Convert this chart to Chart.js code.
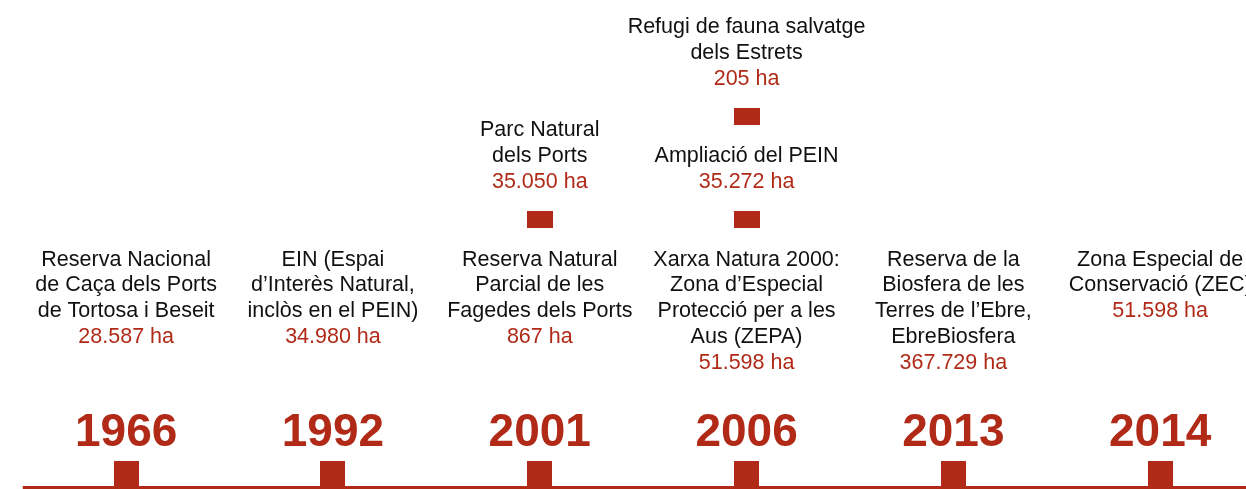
<!DOCTYPE html>
<html>
<head>
<meta charset="utf-8">
<script src="https://cdn.jsdelivr.net/npm/chart.js@4.4.1/dist/chart.umd.min.js"></script>
<style>
  html, body { margin: 0; padding: 0; background: #ffffff; }
  #wrap { width: 1246px; height: 489px; position: relative; }
</style>
</head>
<body>
<div id="wrap"><canvas id="c" width="1246" height="489"></canvas></div>
<script>
// ---------- DATA ----------
const years = ['1966', '1992', '2001', '2006', '2013', '2014'];
const baseTitles = [
  ['Reserva Nacional', 'de Caça dels Ports', 'de Tortosa i Beseit'],
  ['EIN (Espai', 'd’Interès Natural,', 'inclòs en el PEIN)'],
  ['Reserva Natural', 'Parcial de les', 'Fagedes dels Ports'],
  ['Xarxa Natura 2000:', 'Zona d’Especial', 'Protecció per a les', 'Aus (ZEPA)'],
  ['Reserva de la', 'Biosfera de les', 'Terres de l’Ebre,', 'EbreBiosfera'],
  ['Zona Especial de', 'Conservació (ZEC)']
];
const baseAreas = ['28.587 ha', '34.980 ha', '867 ha', '51.598 ha', '367.729 ha', '51.598 ha'];

const upperColumn = [2, 3, 3];
const upperTier = [1, 1, 2];
const upperTitles = [
  ['Parc Natural', 'dels Ports'],
  ['Ampliació del PEIN'],
  ['Refugi de fauna salvatge', 'dels Estrets']
];
const upperAreas = ['35.050 ha', '35.272 ha', '205 ha'];

// ---------- LAYOUT / STYLE ----------
const RED = '#B02A17';
const TEXT = '#111111';
const TIER_Y = [15.5, 269.5, 372.5];   // vertical level of each tier on the y scale
const LINE_H = 25.8;
const BODY_FONT = '21.5px "Liberation Sans", Arial, sans-serif';
const YEAR_FONT = 'bold 46px "Liberation Sans", Arial, sans-serif';

function makeRect(w, h) {
  const cv = document.createElement('canvas');
  cv.width = w; cv.height = h;
  const g = cv.getContext('2d');
  g.fillStyle = RED;
  g.fillRect(0, 0, w, h);
  return cv;
}
const baseMarker = makeRect(25, 25);
const upperMarker = makeRect(26, 17);

const baseData = years.map((y, i) => ({ x: i, y: TIER_Y[0] }));
const upperData = upperColumn.map((c, i) => ({ x: c, y: TIER_Y[upperTier[i]] }));

const textPlugin = {
  id: 'timelineText',
  afterDatasetsDraw(chart) {
    const ctx = chart.ctx;
    ctx.save();
    ctx.textAlign = 'center';
    ctx.textBaseline = 'alphabetic';
    const baseMeta = chart.getDatasetMeta(1);
    baseMeta.data.forEach((pt, i) => {
      const x = pt.x;
      const top = pt.y - 12.5;
      ctx.font = YEAR_FONT;
      ctx.fillStyle = RED;
      ctx.fillText(years[i], x, top - 15);
      ctx.font = BODY_FONT;
      let yy = 265.5;
      ctx.fillStyle = TEXT;
      baseTitles[i].forEach(line => { ctx.fillText(line, x, yy); yy += LINE_H; });
      ctx.fillStyle = RED;
      ctx.fillText(baseAreas[i], x, yy);
    });
    const upMeta = chart.getDatasetMeta(2);
    upMeta.data.forEach((pt, i) => {
      const x = pt.x;
      const top = pt.y - 8.5;
      ctx.font = BODY_FONT;
      let yy = top - 23.5;
      ctx.fillStyle = RED;
      ctx.fillText(upperAreas[i], x, yy);
      ctx.fillStyle = TEXT;
      const lines = upperTitles[i];
      for (let k = lines.length - 1; k >= 0; k--) {
        yy -= LINE_H;
        ctx.fillText(lines[k], x, yy);
      }
    });
    ctx.restore();
  }
};

new Chart(document.getElementById('c'), {
  type: 'scatter',
  data: {
    datasets: [
      {
        type: 'line',
        data: [{ x: -0.5, y: 1.5 }, { x: 6, y: 1.5 }],
        borderColor: RED,
        borderWidth: 3,
        pointRadius: 0,
        borderCapStyle: 'butt'
      },
      {
        data: baseData,
        pointStyle: baseMarker,
        pointRadius: 13
      },
      {
        data: upperData,
        pointStyle: upperMarker,
        pointRadius: 13
      }
    ]
  },
  options: {
    responsive: false,
    animation: false,
    events: [],
    layout: { padding: 0, autoPadding: false },
    plugins: { legend: { display: false }, tooltip: { enabled: false } },
    scales: {
      x: { type: 'linear', display: false, min: -0.61, max: 5.415 },
      y: { type: 'linear', display: false, min: 0, max: 489 }
    }
  },
  plugins: [textPlugin]
});
</script>
</body>
</html>
